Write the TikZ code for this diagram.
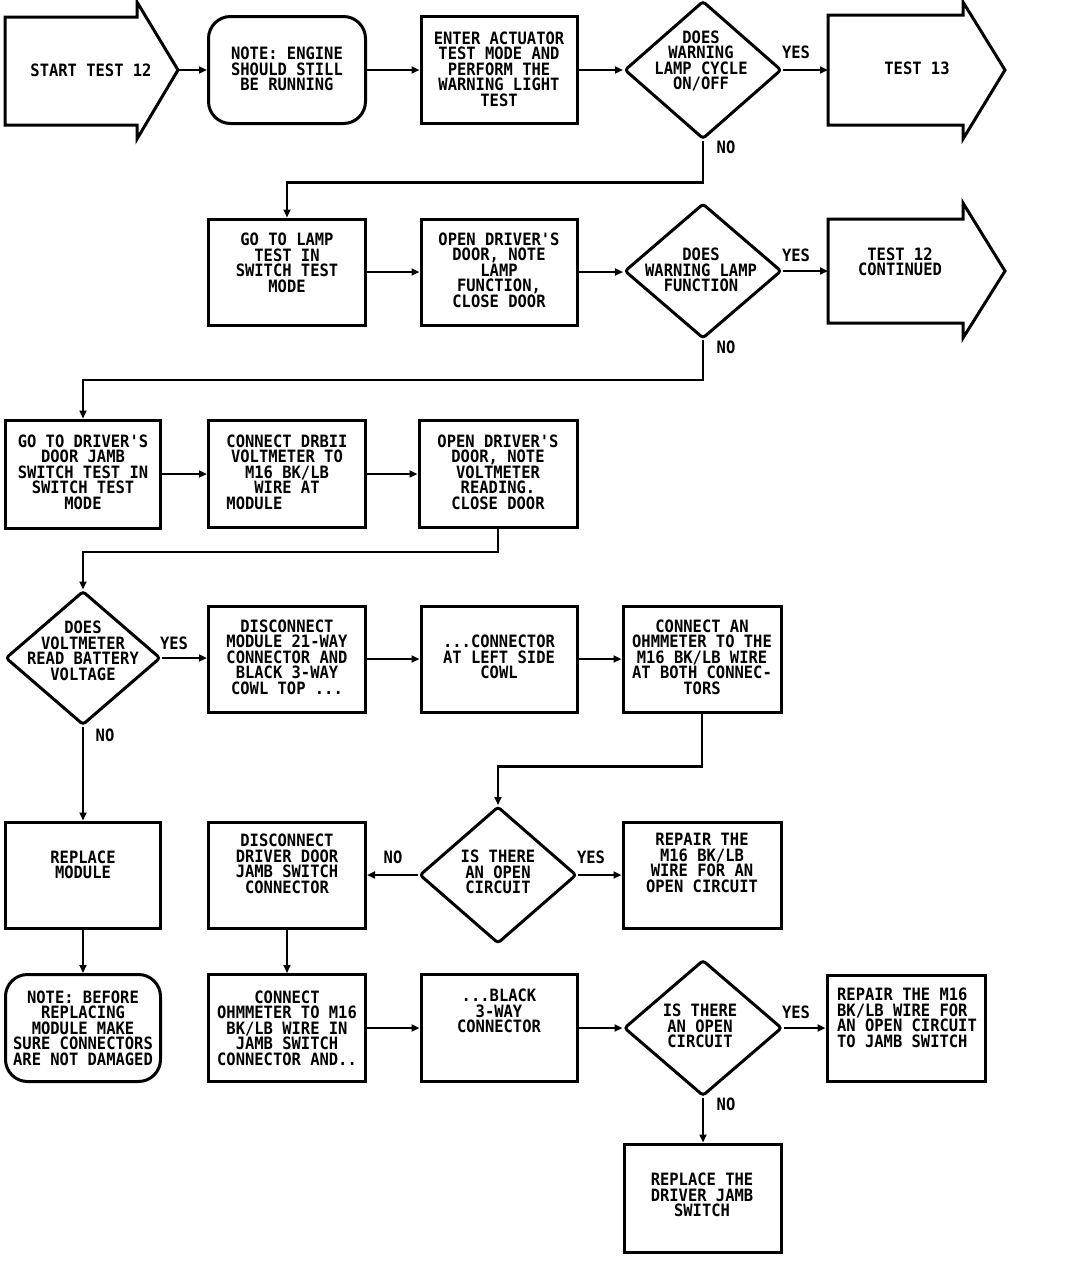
\documentclass[tikz,border=0pt]{standalone}
\usepackage{fontspec}
\newfontfamily\dmono{DejaVu Sans Mono}[FakeStretch=0.91]
\usetikzlibrary{shapes.geometric,arrows.meta,calc}
\tikzset{
  box/.style={draw, line width=3pt, rectangle, minimum width=157pt, minimum height=107pt, inner sep=0pt},
  rbox/.style={box, rounded corners=22pt},
  dia/.style={draw, line width=3pt, diamond, minimum width=157pt, minimum height=137pt, inner sep=0pt, rounded corners=3pt},
  txt/.style={font=\dmono\bfseries\fontsize{17}{15.5}\selectfont, align=center, inner sep=0pt},
  conn/.style={line width=2.6pt, -{Triangle[length=8pt,width=7pt]}},
  outline/.style={line width=3pt, line join=miter},
}
\begin{document}
\begin{tikzpicture}[x=1pt,y=-1pt]
\useasboundingbox (0,0) rectangle (1072,1270);
\fill[white] (0,0) rectangle (1072,1270);

% ---------- Row 1
\draw[outline] (5,17) -- (137,17) -- (137,2) -- (178,70) -- (137,139) -- (137,125) -- (5,125) -- cycle;
\coordinate (starttip) at (178,70);
\node[txt] (tstart) at (91,70) {START TEST 12};
\node[rbox] (note) at (287,70) {};
\node[txt] (tnote) at (287,69) {NOTE: ENGINE\\SHOULD STILL\\BE RUNNING};
\node[box, minimum width=156pt] (enter) at (499,70) {};
\node[txt] (tenter) at (499,69) {ENTER ACTUATOR\\TEST MODE AND\\PERFORM THE\\WARNING LIGHT\\TEST};
\node[dia, minimum height=138pt] (d1) at (703,70) {};
\node[txt] (td1) at (701,61) {DOES\\WARNING\\LAMP CYCLE\\ON/OFF};
\draw[outline] (828,15) -- (963,15) -- (963,2) -- (1005,70) -- (963,139) -- (963,125) -- (828,125) -- cycle;
\coordinate (t13in) at (828,70);
\node[txt] (tt13) at (917,68) {TEST 13};
\node[txt] (yes1) at (796,52) {YES};
\node[txt] (no1) at (726,147) {NO};

% ---------- Row 2
\node[box, minimum height=106pt] (lamp) at (287,272) {};
\node[txt] (tlamp) at (287,263) {GO TO LAMP\\TEST IN\\SWITCH TEST\\MODE};
\node[box, minimum width=156pt, minimum height=106pt] (open1) at (499,272) {};
\node[txt] (topen1) at (499,270) {OPEN DRIVER'S\\DOOR, NOTE\\LAMP\\FUNCTION,\\CLOSE DOOR};
\node[dia, minimum height=135pt] (d2) at (703,271) {};
\node[txt] (td2) at (701,270) {DOES\\WARNING LAMP\\FUNCTION};
\draw[outline] (828,219) -- (963,219) -- (963,203) -- (1005,271) -- (963,338) -- (963,323) -- (828,323) -- cycle;
\coordinate (t12in) at (828,271);
\node[txt] (tt12) at (900,262) {TEST 12\\CONTINUED};
\node[txt] (yes2) at (796,255) {YES};
\node[txt] (no2) at (726,347) {NO};

% ---------- Row 3
\node[box, minimum width=155pt, minimum height=108pt] (jamb) at (83,474) {};
\node[txt] (tjamb) at (83,472) {GO TO DRIVER'S\\DOOR JAMB\\SWITCH TEST IN\\SWITCH TEST\\MODE};
\node[box] (dvm) at (287,474) {};
\node[txt] (tdvm) at (287,472) {CONNECT DRBII\\VOLTMETER TO\\M16 BK/LB\\WIRE AT\\MODULE\phantom{XXXXXXX}};
\node[box, minimum width=158pt] (open2) at (498,474) {};
\node[txt] (topen2) at (498,472) {OPEN DRIVER'S\\DOOR, NOTE\\VOLTMETER\\READING.\\CLOSE DOOR};

% ---------- Row 4
\node[dia, minimum width=155pt, minimum height=134pt] (d3) at (83,658) {};
\node[txt] (td3) at (83,651) {DOES\\VOLTMETER\\READ BATTERY\\VOLTAGE};
\node[txt] (yes3) at (174,643) {YES};
\node[txt] (no3) at (105,735) {NO};
\node[box, minimum height=106pt] (disc) at (287,659) {};
\node[txt] (tdisc) at (287,657) {DISCONNECT\\MODULE 21-WAY\\CONNECTOR AND\\BLACK 3-WAY\\COWL TOP ...};
\node[box, minimum width=156pt, minimum height=106pt] (conn) at (499,659) {};
\node[txt] (tconn) at (499,657) {...CONNECTOR\\AT LEFT SIDE\\COWL};
\node[box, minimum width=158pt, minimum height=106pt] (ohm) at (702,659) {};
\node[txt] (tohm) at (702,657) {CONNECT AN\\OHMMETER TO THE\\M16 BK/LB WIRE\\AT BOTH CONNEC-\\TORS};

% ---------- Row 5
\node[box, minimum width=155pt, minimum height=106pt] (repl) at (83,875) {};
\node[txt] (trepl) at (83,865) {REPLACE\\MODULE};
\node[box, minimum height=106pt] (disc2) at (287,875) {};
\node[txt] (tdisc2) at (287,864) {DISCONNECT\\DRIVER DOOR\\JAMB SWITCH\\CONNECTOR};
\node[dia, minimum height=137pt] (d4) at (498,875) {};
\node[txt] (td4) at (498,872) {IS THERE\\AN OPEN\\CIRCUIT};
\node[txt] (no4) at (393,857) {NO};
\node[txt] (yes4) at (591,857) {YES};
\node[box, minimum width=158pt, minimum height=106pt] (rep1) at (702,875) {};
\node[txt] (trep1) at (702,863) {REPAIR THE\\M16 BK/LB\\WIRE FOR AN\\OPEN CIRCUIT};

% ---------- Row 6
\node[rbox, minimum width=155pt] (note2) at (83,1028) {};
\node[txt] (tnote2) at (83,1028) {NOTE: BEFORE\\REPLACING\\MODULE MAKE\\SURE CONNECTORS\\ARE NOT DAMAGED};
\node[box] (ohm2) at (287,1028) {};
\node[txt] (tohm2) at (287,1028) {CONNECT\\OHMMETER TO M16\\BK/LB WIRE IN\\JAMB SWITCH\\CONNECTOR AND..};
\node[box, minimum width=156pt] (black) at (499,1028) {};
\node[txt] (tblack) at (499,1011) {...BLACK\\3-WAY\\CONNECTOR};
\node[dia, minimum width=158pt, minimum height=136pt] (d5) at (703,1028) {};
\node[txt] (td5) at (700,1026) {IS THERE\\AN OPEN\\CIRCUIT};
\node[txt] (yes5) at (796,1012) {YES};
\node[txt] (no5) at (726,1104) {NO};
\node[box, minimum width=158pt, minimum height=106pt] (rep2) at (906,1028) {};
\node[txt, align=left] (trep2) at (907,1018) {REPAIR THE M16\\BK/LB WIRE FOR\\AN OPEN CIRCUIT\\TO JAMB SWITCH};
\node[box, minimum width=157pt, minimum height=108pt] (replsw) at (703,1198) {};
\node[txt] (treplsw) at (702,1195) {REPLACE THE\\DRIVER JAMB\\SWITCH};

% ---------- Connectors
\draw[conn] (starttip) -- (starttip -| note.west);
\draw[conn] (note.east) -- (note.east -| enter.west);
\draw[conn] (enter.east) -- (enter.east -| d1.west);
\draw[conn] (d1.east) -- (t13in);
\draw[conn] (d1.south) -- ++(0,42) -| (lamp.north);
\draw[conn] (lamp.east) -- (lamp.east -| open1.west);
\draw[conn] (open1.east) -- (open1.east -| d2.west);
\draw[conn] (d2.east) -- (t12in);
\draw[conn] (d2.south) -- ++(0,40) -| (jamb.north);
\draw[conn] (jamb.east) -- (jamb.east -| dvm.west);
\draw[conn] (dvm.east) -- (dvm.east -| open2.west);
\draw[conn] (open2.south) -- ++(0,23) -| (d3.north);
\draw[conn] (d3.east) -- (d3.east -| disc.west);
\draw[conn] (disc.east) -- (disc.east -| conn.west);
\draw[conn] (conn.east) -- (conn.east -| ohm.west);
\draw[conn] (ohm.south) -- ++(0,53) -| (d4.north);
\draw[conn] (d3.south) -- (d3.south |- repl.north);
\draw[conn] (d4.west) -- (d4.west -| disc2.east);
\draw[conn] (d4.east) -- (d4.east -| rep1.west);
\draw[conn] (repl.south) -- (repl.south |- note2.north);
\draw[conn] (disc2.south) -- (disc2.south |- ohm2.north);
\draw[conn] (ohm2.east) -- (ohm2.east -| black.west);
\draw[conn] (black.east) -- (black.east -| d5.west);
\draw[conn] (d5.east) -- (d5.east -| rep2.west);
\draw[conn] (d5.south) -- (d5.south |- replsw.north);
\end{tikzpicture}
\end{document}
